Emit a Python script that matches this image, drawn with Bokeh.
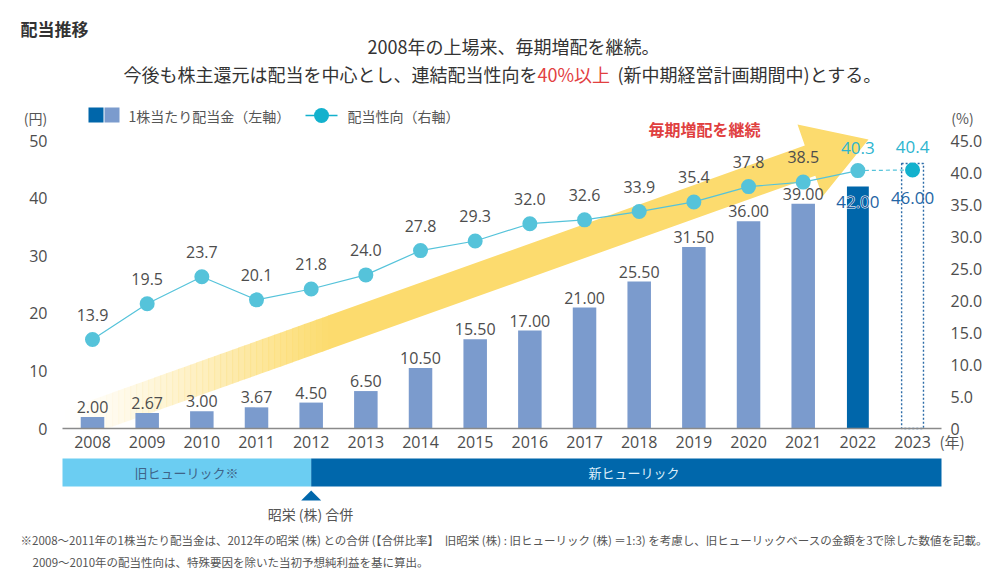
from bokeh.plotting import figure
from bokeh.models import Range1d, Label, ColumnDataSource
from bokeh.core.properties import value
from bokeh.embed import file_html
from bokeh.resources import INLINE

# ---- data ----
years = [2008, 2009, 2010, 2011, 2012, 2013, 2014, 2015,
         2016, 2017, 2018, 2019, 2020, 2021, 2022, 2023]
dividend = [2.00, 2.67, 3.00, 3.67, 4.50, 6.50, 10.50, 15.50,
            17.00, 21.00, 25.50, 31.50, 36.00, 39.00, 42.00, 46.00]   # 円 per share
payout = [13.9, 19.5, 23.7, 20.1, 21.8, 24.0, 27.8, 29.3,
          32.0, 32.6, 33.9, 35.4, 37.8, 38.5, 40.3, 40.4]             # %
yen_ticks = [0, 10, 20, 30, 40, 50]
pct_ticks = [0, 5, 10, 15, 20, 25, 30, 35, 40, 45]
merger_year = 2012

# ---- canvas geometry (pixels) ----
W, H = 992, 585
PLOT_L, PLOT_R = 62, 941     # extent of the zero line and the company band
X0_PX, DX = 92.0, 54.67      # centre of first year, pixels per year
Y0_PX, DY = 428.0, 5.76      # zero line, pixels per yen
PCT_PER_YEN = 45 / 50


def px_x(px):
    return years[0] + (px - X0_PX) / DX


def px_y(py):
    return (Y0_PX - py) / DY


JP = "Noto Sans CJK JP"
NUM = "Open Sans"
GREY = "#4d4d4d"
BAR = "#7b9bcd"
BAR_DARK = "#0066aa"
LINE = "#55c3da"
CYAN = "#2db5cf"

p = figure(width=W, height=H,
           x_range=Range1d(px_x(0), px_x(W)),
           y_range=Range1d(px_y(H), px_y(0)),
           x_axis_location=None, y_axis_location=None,
           output_backend="svg", toolbar_location=None,
           min_border=0, min_border_left=0, min_border_right=0,
           min_border_top=0, min_border_bottom=0,
           outline_line_color=None,
           background_fill_color="white", border_fill_color="white")
p.grid.visible = False
p.extra_y_ranges = {"pct": Range1d(px_y(H) * PCT_PER_YEN, px_y(0) * PCT_PER_YEN)}

# ---- rising arrow behind the bars ----
ARROW = "#fcdb6e"
SLOPE = 0.357


def up_edge(px):
    return 300 - SLOPE * (px - 370)


def lo_edge(px):
    return min(334 - SLOPE * (px - 370), Y0_PX)


FADE_START, FADE_END, STEP = 64, 330, 6
xs, ys, alphas = [], [], []
xa = FADE_START
while xa < FADE_END:
    xb = min(xa + STEP, FADE_END)
    xe = xb + 0.6
    xs.append([px_x(xa), px_x(xe), px_x(xe), px_x(xa)])
    ys.append([px_y(up_edge(xa)), px_y(up_edge(xe)), px_y(lo_edge(xe)), px_y(lo_edge(xa))])
    t = ((xa + xb) / 2 - FADE_START) / (FADE_END - FADE_START)
    alphas.append(max(0.0, min(1.0, t)) ** 1.25)
    xa = xb
p.patches(xs="xs", ys="ys", fill_alpha="a", fill_color=ARROW, line_color=None,
          source=ColumnDataSource(dict(xs=xs, ys=ys, a=alphas)))

head_px = [(FADE_END, up_edge(FADE_END)), (804.3, 145.0), (797, 124), (868, 139),
           (822, 196), (814.8, 175.2), (FADE_END, lo_edge(FADE_END))]
p.patch([px_x(a) for a, _ in head_px], [px_y(b) for _, b in head_px],
        fill_color=ARROW, line_color=None)

# ---- bars ----
n_act = len(years) - 2
p.vbar(x=years[:n_act], top=dividend[:n_act], width=0.43, fill_color=BAR, line_color=None)
p.vbar(x=[years[-2]], top=[dividend[-2]], width=0.40, fill_color=BAR_DARK, line_color=None)
p.vbar(x=[years[-1]], top=[dividend[-1]], width=0.40, fill_color=None,
       line_color="#2d6ca8", line_width=1.4, line_dash="2 2")

# zero line
p.line([px_x(PLOT_L), px_x(PLOT_R)], [0, 0], line_color="#8a8a8a", line_width=1.5)

# axis tick labels: yen on the left, payout % on the right
p.text(x=[px_x(47)] * len(yen_ticks), y=yen_ticks, text=[str(t) for t in yen_ticks],
       text_align="right", text_baseline="middle",
       text_font=value(NUM), text_font_size="16px", text_color=GREY)
p.text(x=[px_x(950)] * len(pct_ticks), y=pct_ticks, y_range_name="pct",
       text=["0" if t == 0 else f"{t:.1f}" for t in pct_ticks],
       text_align="left", text_baseline="middle",
       text_font=value(NUM), text_font_size="16px", text_color=GREY)

# bar value labels
p.text(x=years[:n_act], y=dividend[:n_act], text=[f"{v:.2f}" for v in dividend[:n_act]],
       text_align="center", text_baseline="bottom", y_offset=-4,
       text_font=value(NUM), text_font_size="16px", text_color=GREY)
# latest year: dark blue figure with a white halo over the bar top
for col, outline in (("white", "white"), ("#1f63a4", None)):
    p.text(x=[years[-2]], y=[dividend[-2]], text=[f"{dividend[-2]:.2f}"],
           text_align="center", text_baseline="middle", y_offset=15,
           text_font=value(NUM), text_font_size="17px", text_color=col,
           text_outline_color=outline)
p.text(x=[years[-1]], y=[dividend[-1]], text=[f"{dividend[-1]:.2f}"],
       text_align="center", text_baseline="middle", y_offset=34,
       text_font=value(NUM), text_font_size="17px", text_color="#2466a5")

# ---- payout ratio line ----
p.line(years[:-1], payout[:-1], y_range_name="pct", line_color=LINE, line_width=1.2)
p.line(years[-2:], payout[-2:], y_range_name="pct", line_color=LINE, line_width=1.2,
       line_dash="4 3")
p.scatter(years[:-1], payout[:-1], y_range_name="pct", size=15,
          fill_color=LINE, line_color=None)
p.scatter([years[-1]], [payout[-1]], y_range_name="pct", size=15,
          fill_color="#13b1cd", line_color=None)
p.text(x=years[:-2], y=payout[:-2], text=[f"{v:.1f}" for v in payout[:-2]],
       y_range_name="pct", text_align="center", text_baseline="middle", y_offset=-25,
       text_font=value(NUM), text_font_size="16px", text_color=GREY)
p.text(x=years[-2:], y=payout[-2:], text=[f"{v:.1f}" for v in payout[-2:]],
       y_range_name="pct", text_align="center", text_baseline="middle", y_offset=-23,
       text_font=value(NUM), text_font_size="17px", text_color=CYAN)

# year labels
yr_y = px_y(441)
p.text(x=years, y=[yr_y] * len(years), text=[str(y) for y in years],
       text_align="center", text_baseline="middle",
       text_font=value(NUM), text_font_size="16px", text_color=GREY)

# ---- company band ----
band_top, band_bot = px_y(458), px_y(486)
x_lo, x_hi = px_x(PLOT_L), px_x(PLOT_R)
p.quad(left=[x_lo], right=[merger_year], top=[band_top], bottom=[band_bot],
       fill_color="#6bcdf2", line_color=None)
p.quad(left=[merger_year], right=[x_hi], top=[band_top], bottom=[band_bot],
       fill_color="#0067ab", line_color=None)
p.patch([merger_year - 10 / DX, merger_year + 10 / DX, merger_year],
        [px_y(500), px_y(500), px_y(490)], fill_color="#0067ab", line_color=None)


def label(x_px, y_px, text, size, color=GREY, font=JP, align="left", style="normal"):
    p.add_layout(Label(x=px_x(x_px), y=px_y(y_px), text=text, text_font=font,
                       text_font_size=size, text_color=color, text_align=align,
                       text_baseline="middle", text_font_style=style))


label((PLOT_L + 310) / 2, 472, "旧ヒューリック※", "13px", "#3f6488", align="center")
label((310 + PLOT_R) / 2 + 8, 472, "新ヒューリック", "13px", "#dbeefa", align="center")
label(310, 513, "昭栄 (株) 合併", "14px", "#555555", align="center")

# ---- headings ----
label(20, 28, "配当推移", "17px", "#333333", style="bold")
label(513, 45, "2008年の上場来、毎期増配を継続。", "18px", "#333333", align="center")
label(537, 73, "今後も株主還元は配当を中心とし、連結配当性向を", "18px", "#333333", align="right")
label(537, 73, "40%以上", "18px", "#e2403f")
label(617, 73, "(新中期経営計画期間中)とする。", "18px", "#333333")
label(704, 128, "毎期増配を継続", "16px", "#e0403f", align="center", style="bold")

# axis units
label(35, 117, "(円)", "14px", "#555555", align="center")
label(962, 117, "(%)", "14px", "#555555", align="center")
label(939, 441, "(年)", "15px", "#555555")

# ---- legend ----
leg_y0, leg_y1 = px_y(122), px_y(107)
p.quad(left=[px_x(88)], right=[px_x(103)], top=[leg_y1], bottom=[leg_y0],
       fill_color=BAR_DARK, line_color=None)
p.quad(left=[px_x(104)], right=[px_x(119)], top=[leg_y1], bottom=[leg_y0],
       fill_color=BAR, line_color=None)
label(128, 115, "1株当たり配当金（左軸）", "14px", "#555555")
p.line([px_x(305), px_x(337)], [px_y(115), px_y(115)], line_color="#13b1cd", line_width=1.3)
p.scatter([px_x(321)], [px_y(115)], size=15, fill_color="#13b1cd", line_color=None)
label(347, 115, "配当性向（右軸）", "14px", "#555555")

# ---- notes ----
label(20, 539, "※2008～2011年の1株当たり配当金は、2012年の昭栄 (株) との合併 (【合併比率】　旧昭栄 (株) : 旧ヒューリック (株) ＝1:3) を考慮し、旧ヒューリックベースの金額を3で除した数値を記載。",
      "11.5px", "#555555")
label(32, 561, "2009～2010年の配当性向は、特殊要因を除いた当初予想純利益を基に算出。", "11.5px", "#555555")

open("out.html", "w").write(file_html(p, INLINE))
